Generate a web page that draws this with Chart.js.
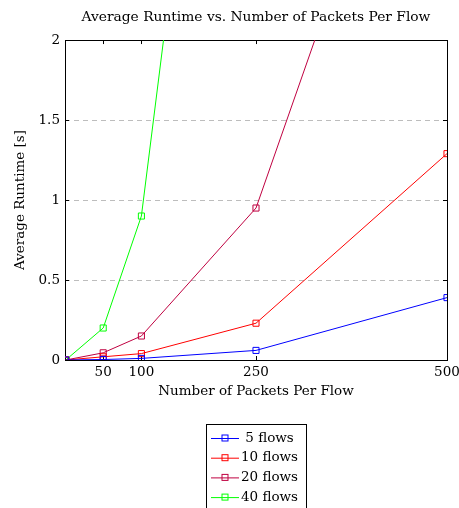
<!DOCTYPE html>
<html lang="en">
<head>
  <meta charset="UTF-8" />
  <title>Average Runtime vs. Number of Packets Per Flow</title>
  <script src="https://cdn.jsdelivr.net/npm/chart.js"></script>
  <style>
    body { margin: 0; background: #fff; }
  </style>
</head>
<body>
  <canvas id="runtimeChart" width="459" height="508"></canvas>

  <script>
    const packets = [1, 50, 100, 250, 500];
    const flows5 = [0, 0.003, 0.01, 0.06, 0.39];
    const flows10 = [0, 0.02, 0.04, 0.23, 1.29];
    const flows20 = [0, 0.045, 0.15, 0.95, 4.36];
    const flows40 = [0, 0.2, 0.9, 6.6];
    const seriesNames = ['5 flows', '10 flows', '20 flows', '40 flows'];
    const seriesColors = ['#0000ff', '#ff0000', '#bf0040', '#00ff00'];
    const xTicks = [50, 100, 250, 500];
    const yTicks = [0, 0.5, 1, 1.5, 2];

    const FONT = "'DejaVu Serif', serif";
    const allSeries = [flows5, flows10, flows20, flows40];

    const datasets = allSeries.map((vals, i) => ({
      label: seriesNames[i],
      data: vals.map((v, j) => ({ x: packets[j], y: v })),
      borderColor: seriesColors[i],
      backgroundColor: 'rgba(0,0,0,0)',
      borderWidth: 1,
      pointStyle: 'rect',
      pointRadius: 4.3,
      pointBorderWidth: 1,
      pointBorderColor: seriesColors[i],
      pointBackgroundColor: 'rgba(0,0,0,0)',
      tension: 0
    }));

    // frame around the plot and inward tick marks (pgfplots look)
    const framePlugin = {
      id: 'frame',
      beforeDatasetsDraw(chart) {
        const { ctx, chartArea: a, scales } = chart;
        ctx.save();
        ctx.strokeStyle = '#000';
        ctx.lineWidth = 1;
        ctx.beginPath();
        xTicks.forEach(v => {
          const px = Math.round(scales.x.getPixelForValue(v)) + 0.5;
          ctx.moveTo(px, a.bottom); ctx.lineTo(px, a.bottom - 4);
          ctx.moveTo(px, a.top); ctx.lineTo(px, a.top + 4);
        });
        yTicks.forEach(v => {
          const py = Math.round(scales.y.getPixelForValue(v)) + 0.5;
          ctx.moveTo(a.left, py); ctx.lineTo(a.left + 4, py);
          ctx.moveTo(a.right, py); ctx.lineTo(a.right - 4, py);
        });
        ctx.stroke();
        ctx.strokeRect(Math.round(a.left) + 0.5, Math.round(a.top) + 0.5,
          Math.round(a.right - a.left), Math.round(a.bottom - a.top));
        ctx.restore();
      }
    };

    // boxed legend under the axis, one entry per row
    const boxLegend = {
      id: 'boxLegend',
      afterDraw(chart) {
        const { ctx, chartArea: a } = chart;
        const cx = (a.left + a.right) / 2;
        const left = cx - 50, top = 424, w = 100, rowH = 19.7;
        ctx.save();
        ctx.fillStyle = '#fff';
        ctx.fillRect(left, top, w, 90);
        ctx.strokeStyle = '#000';
        ctx.lineWidth = 1;
        ctx.strokeRect(Math.round(left) + 0.5, top + 0.5, w, 90);
        ctx.font = '13.5px ' + FONT;
        ctx.textAlign = 'center';
        ctx.textBaseline = 'middle';
        chart.data.datasets.forEach((ds, i) => {
          const y = top + 14 + i * rowH;
          ctx.strokeStyle = ds.borderColor;
          ctx.beginPath();
          ctx.moveTo(left + 5, y + 0.5);
          ctx.lineTo(left + 33, y + 0.5);
          ctx.stroke();
          ctx.strokeRect(left + 16, y - 3, 6, 6);
          ctx.fillStyle = '#000';
          ctx.fillText(ds.label, left + 63.5, y);
        });
        ctx.restore();
      }
    };

    new Chart(document.getElementById('runtimeChart'), {
      type: 'line',
      data: { datasets },
      options: {
        responsive: false,
        animation: false,
        layout: { padding: { left: 0, right: 12, top: 0, bottom: 98 } },
        plugins: {
          legend: { display: false },
          tooltip: { enabled: false },
          title: {
            display: true,
            fullSize: false,
            text: 'Average Runtime vs. Number of Packets Per Flow',
            color: '#000',
            font: { family: FONT, size: 13.8, weight: 'normal' },
            padding: { top: 9, bottom: 14.5 }
          }
        },
        scales: {
          x: {
            type: 'linear',
            min: 0,
            max: 500,
            afterBuildTicks: s => { s.ticks = xTicks.map(v => ({ value: v })); },
            afterFit: s => { s.height = 50; s.paddingLeft = 0; s.paddingRight = 0; },
            grid: { display: false, drawTicks: false },
            border: { display: false },
            ticks: {
              color: '#000',
              padding: 4,
              maxRotation: 0,
              font: { family: FONT, size: 13.5 },
              callback: v => String(v)
            },
            title: {
              display: true,
              text: 'Number of Packets Per Flow',
              color: '#000',
              font: { family: FONT, size: 13.5 },
              padding: { top: 0, bottom: 10 }
            }
          },
          y: {
            min: 0,
            max: 2,
            afterBuildTicks: s => { s.ticks = yTicks.map(v => ({ value: v })); },
            afterFit: s => { s.width = 65; s.paddingTop = 0; s.paddingBottom = 0; },
            grid: {
              drawTicks: false,
              color: c => (c.tick && c.tick.value > 0 && c.tick.value < 2) ? '#bdbdbd' : 'rgba(0,0,0,0)',
              lineWidth: 1
            },
            border: { display: false, dash: [5, 4] },
            ticks: {
              color: '#000',
              padding: 5,
              font: { family: FONT, size: 13.5 },
              callback: v => String(v)
            },
            title: {
              display: true,
              text: 'Average Runtime [s]',
              color: '#000',
              font: { family: FONT, size: 13.5 },
              padding: { top: 12, bottom: 0 }
            }
          }
        }
      },
      plugins: [framePlugin, boxLegend]
    });
  </script>
</body>
</html>
